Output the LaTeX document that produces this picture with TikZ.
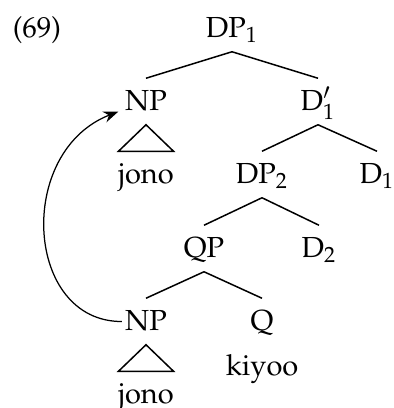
\documentclass[tikz,border=0pt]{standalone}
\usepackage[T1]{fontenc}
\usepackage{mathpazo}
\usetikzlibrary{arrows.meta,calc}
\begin{document}
\begin{tikzpicture}[x=0.4pt,y=-0.4pt, font=\fontsize{11.6}{13}\selectfont, line width=0.6pt,
  cat/.style={anchor=base, inner xsep=1pt, inner ysep=4pt, text height=8.4pt, text depth=1.6pt},
  branch/.style={draw},
  tri/.style={draw, line join=miter}]
\useasboundingbox (0,0) rectangle (394,408);
\node[anchor=base west, inner sep=0] (ex) at (12,37) {(69)};
\node[cat] (dp1) at (232,37) {DP$_1$};
\node[cat] (np1) at (146,110) {NP};
\node[cat] (dbar) at (318,110) {D$'_1$};
\node[cat] (jono1) at (146,183) {jono};
\node[cat] (dp2) at (262,183) {DP$_2$};
\node[cat] (d1) at (377,183) {D$_1$};
\node[cat] (qp) at (204,257) {QP};
\node[cat] (d2) at (319,257) {D$_2$};
\node[cat] (np2) at (146,330) {NP};
\node[cat] (q) at (262,330) {Q};
\node[cat] (kiyoo) at (262,375) {kiyoo};
\node[cat] (jono2) at (146,403) {jono};
\draw[branch] (dp1.south) -- (np1.north);
\draw[branch] (dp1.south) -- (dbar.north);
\draw[branch] (dbar.south) -- (dp2.north);
\draw[branch] (dbar.south) -- (d1.north);
\draw[branch] (dp2.south) -- (qp.north);
\draw[branch] (dp2.south) -- (d2.north);
\draw[branch] (qp.south) -- (np2.north);
\draw[branch] (qp.south) -- (q.north);
\draw[tri] (np1.south) -- ($(jono1.north)+(-27.5,0)$) -- ($(jono1.north)+(27.5,0)$) -- cycle;
\draw[tri] (np2.south) -- ($(jono2.north)+(-27.5,0)$) -- ($(jono2.north)+(27.5,0)$) -- cycle;
\draw[-{Stealth[length=6pt, width=4.5pt]}, line width=0.5pt] (np2.west) .. controls (25,322) and (15,152) .. ($(np1.west)+(-3.5,10)$);
\end{tikzpicture}
\end{document}
